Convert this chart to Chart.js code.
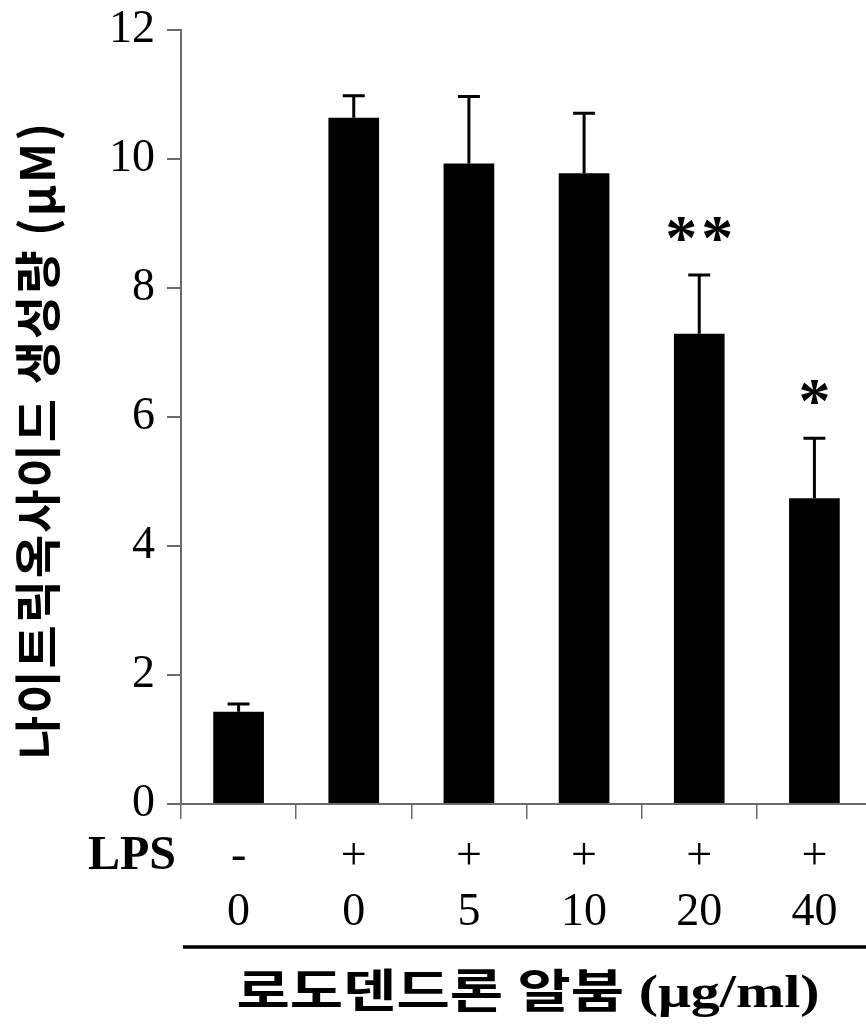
<!DOCTYPE html>
<html>
<head>
<meta charset="utf-8">
<script src="https://cdn.jsdelivr.net/npm/chart.js@4.4.0/dist/chart.umd.min.js"></script>
<style>
body { margin: 0; background: #fff; overflow: hidden; }
#wrap { width: 872px; height: 1028px; }
</style>
</head>
<body>
<div id="wrap"><canvas id="my_chart" width="872" height="1028"></canvas></div>
<script>
// values
const lps_labels = ['-', '+', '+', '+', '+', '+'];
const dose_labels = ['0', '0', '5', '10', '20', '40'];
const no_values = [1.43, 10.64, 9.93, 9.78, 7.29, 4.74];
const no_errors = [0.12, 0.34, 1.04, 0.93, 0.91, 0.93];
const sig_marks = ['', '', '', '', '**', '*'];
const y_ticks = [0, 2, 4, 6, 8, 10, 12];

const y_title = '나이트릭옥사이드 생성량 (μM)';
const x_title = '로도덴드론 알붐 (μg/ml)';

const axis_color = '#6a6a6a';
const serif = '"Liberation Serif", "Times New Roman", serif';

const extras = {
    id: 'extras',
    afterDatasetsDraw(chart) {
        const ctx = chart.ctx;
        const y = chart.scales.y;
        const meta = chart.getDatasetMeta(0);
        ctx.save();
        ctx.strokeStyle = '#000';
        ctx.fillStyle = '#000';
        ctx.lineWidth = 3;
        meta.data.forEach((bar, i) => {
            const top = y.getPixelForValue(no_values[i] + no_errors[i]);
            ctx.beginPath();
            ctx.moveTo(bar.x, bar.y);
            ctx.lineTo(bar.x, top);
            ctx.moveTo(bar.x - 11, top);
            ctx.lineTo(bar.x + 11, top);
            ctx.stroke();
            if (sig_marks[i]) {
                ctx.font = 'bold 64px ' + serif;
                ctx.letterSpacing = '4px';
                ctx.textAlign = 'center';
                ctx.textBaseline = 'middle';
                ctx.fillText(sig_marks[i], bar.x + 2, top - 33);
                ctx.letterSpacing = '0px';
            }
        });
        ctx.restore();
    },
    afterDraw(chart) {
        const ctx = chart.ctx;
        const area = chart.chartArea;
        ctx.save();
        ctx.fillStyle = '#000';

        // LPS row label
        ctx.font = 'bold 48px ' + serif;
        ctx.textAlign = 'center';
        ctx.textBaseline = 'middle';
        ctx.fillText('LPS', 132, 857);

        // line under the dose row
        ctx.strokeStyle = '#000';
        ctx.lineWidth = 3.5;
        ctx.beginPath();
        ctx.moveTo(area.left + 2, 947);
        ctx.lineTo(chart.width, 947);
        ctx.stroke();

        // x title, stretched sideways like the original
        ctx.save();
        ctx.translate(528, 995);
        ctx.scale(1.26, 1);
        ctx.font = 'bold 46px ' + serif + ', "Noto Sans CJK KR"';
        ctx.fillText(x_title, 0, 0);
        ctx.restore();

        // y title
        ctx.translate(37, 440);
        ctx.rotate(-Math.PI / 2);
        ctx.font = 'bold 47px "Noto Sans CJK KR"';
        ctx.letterSpacing = '2px';
        ctx.fillText(y_title, 0, 0);
        ctx.restore();
    }
};

const ctx = document.getElementById('my_chart').getContext('2d');
window.my_bar_chart = new Chart(ctx, {
    type: 'bar',
    data: {
        labels: lps_labels.map((l, i) => [l, dose_labels[i]]),
        datasets: [{
            data: no_values,
            backgroundColor: '#000',
            borderWidth: 0,
            barPercentage: 0.44,
            categoryPercentage: 1
        }]
    },
    options: {
        responsive: false,
        animation: false,
        layout: { padding: { top: 30, left: 0, right: 0, bottom: 0 } },
        plugins: {
            legend: { display: false },
            tooltip: { enabled: false }
        },
        scales: {
            x: {
                grid: {
                    display: true,
                    drawOnChartArea: false,
                    offset: true,
                    color: axis_color,
                    lineWidth: 1.5,
                    tickLength: 15
                },
                border: { color: axis_color, width: 2 },
                ticks: {
                    color: '#000',
                    padding: 10,
                    maxRotation: 0,
                    autoSkip: false,
                    font: { family: serif, size: 46, lineHeight: 1.22 }
                },
                afterFit(scale) { scale.height = 224; }
            },
            y: {
                min: 0,
                max: 12,
                grid: {
                    drawOnChartArea: false,
                    color: axis_color,
                    lineWidth: 2,
                    tickLength: 14
                },
                border: { color: axis_color, width: 2 },
                ticks: {
                    color: '#000',
                    padding: 12,
                    font: { family: serif, size: 46, lineHeight: 0.6 }
                },
                afterBuildTicks(scale) {
                    scale.ticks = y_ticks.map(v => ({ value: v }));
                },
                afterFit(scale) { scale.width = 181; }
            }
        }
    },
    plugins: [extras]
});
</script>
</body>
</html>
